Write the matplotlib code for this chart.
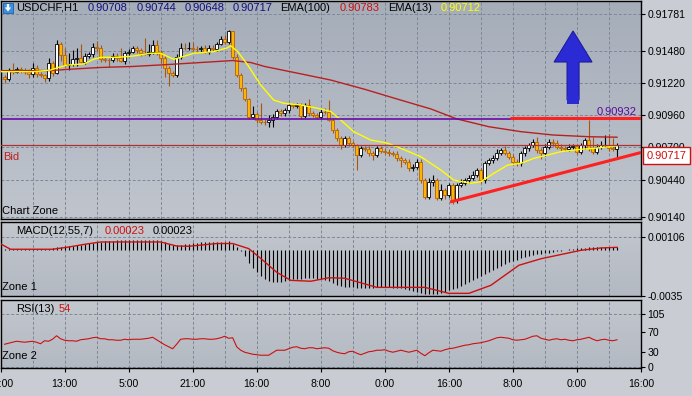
import numpy as np
import matplotlib
matplotlib.use("Agg")
import matplotlib.pyplot as plt
from matplotlib.patches import Rectangle, Polygon
from matplotlib.colors import LinearSegmentedColormap

# ---------------- data ----------------
first_open = 0.91273
close = [
    0.91255, 0.91327, 0.91314, 0.91333, 0.91327, 0.91314, 0.91293, 0.91346, 0.91293, 0.91287,
    0.91260, 0.91382, 0.91301, 0.91538, 0.91449, 0.91368, 0.91376, 0.91417, 0.91425, 0.91395,
    0.91443, 0.91455, 0.91516, 0.91508, 0.91414, 0.91412, 0.91410, 0.91443, 0.91422, 0.91400,
    0.91463, 0.91476, 0.91503, 0.91489, 0.91463, 0.91460, 0.91476, 0.91530, 0.91476, 0.91422,
    0.91341, 0.91301, 0.91287, 0.91435, 0.91508, 0.91503, 0.91508, 0.91498, 0.91495, 0.91503,
    0.91476, 0.91508, 0.91498, 0.91536, 0.91579, 0.91557, 0.91643, 0.91435, 0.91287, 0.91179,
    0.91093, 0.90949, 0.90969, 0.90922, 0.90909, 0.90904, 0.90922, 0.90949, 0.90995, 0.90977,
    0.91003, 0.91044, 0.91038, 0.91044, 0.90957, 0.91044, 0.90977, 0.90963, 0.90949, 0.90990,
    0.90987, 0.90922, 0.90841, 0.90774, 0.90720, 0.90774, 0.90734, 0.90720, 0.90639, 0.90693,
    0.90690, 0.90653, 0.90639, 0.90693, 0.90674, 0.90666, 0.90653, 0.90650, 0.90612, 0.90598,
    0.90585, 0.90531, 0.90544, 0.90585, 0.90436, 0.90301, 0.90420, 0.90436, 0.90291, 0.90355,
    0.90315, 0.90396, 0.90274, 0.90396, 0.90412, 0.90436, 0.90453, 0.90477, 0.90517, 0.90436,
    0.90574, 0.90598, 0.90615, 0.90655, 0.90679, 0.90655, 0.90625, 0.90585, 0.90572, 0.90653,
    0.90693, 0.90720, 0.90747, 0.90679, 0.90653, 0.90706, 0.90747, 0.90734, 0.90706, 0.90693,
    0.90690, 0.90706, 0.90710, 0.90666, 0.90720, 0.90760, 0.90693, 0.90666, 0.90706, 0.90720,
    0.90722, 0.90693, 0.90688, 0.90717,
]
upper_wick_pips = [
    1, 2, 6, 2, 2, 2, 2, 4, 2, 2,
    1, 4, 2, 3, 2, 6, 9, 7, 8, 11,
    2, 2, 3, 5, 2, 2, 1, 2, 2, 8,
    2, 2, 2, 2, 2, 12, 6, 4, 4, 1,
    2, 2, 2, 2, 4, 4, 5, 5, 2, 2,
    3, 2, 2, 2, 2, 3, 1, 0, 2, 2,
    1, 1, 7, 2, 14, 2, 4, 2, 2, 2,
    2, 2, 2, 2, 2, 2, 5, 2, 2, 2,
    3, 10, 2, 2, 2, 2, 2, 2, 1, 2,
    2, 2, 2, 2, 2, 2, 2, 2, 2, 2,
    2, 2, 2, 2, 2, 2, 3, 4, 2, 5,
    2, 2, 2, 2, 3, 2, 2, 3, 2, 2,
    2, 2, 2, 3, 2, 3, 2, 2, 2, 2,
    2, 2, 2, 4, 2, 2, 2, 2, 3, 2,
    2, 2, 2, 2, 2, 2, 16, 9, 2, 3,
    8, 9, 8, 2,
]
lower_wick_pips = [
    3, 2, 2, 1, 2, 2, 3, 2, 2, 2,
    3, 2, 2, 1, 5, 2, 4, 2, 6, 1,
    2, 2, 2, 3, 2, 2, 6, 2, 2, 1,
    2, 2, 1, 2, 2, 1, 2, 2, 3, 4,
    7, 10, 2, 2, 2, 1, 1, 2, 2, 2,
    1, 2, 2, 2, 1, 2, 2, 2, 2, 2,
    2, 2, 2, 2, 2, 2, 4, 6, 2, 2,
    2, 2, 2, 2, 3, 2, 2, 2, 2, 2,
    2, 1, 2, 2, 3, 2, 2, 2, 12, 2,
    2, 2, 4, 2, 2, 2, 2, 2, 2, 6,
    2, 2, 2, 2, 2, 2, 2, 3, 2, 2,
    3, 2, 3, 2, 2, 2, 2, 2, 2, 2,
    2, 2, 2, 2, 2, 2, 2, 2, 2, 2,
    2, 2, 2, 2, 5, 2, 2, 2, 2, 2,
    2, 2, 2, 2, 2, 3, 2, 2, 2, 2,
    2, 2, 2, 7,
]

ema100_bar = [-1, 11.5, 16, 24, 32, 41, 49, 57, 61.5, 65, 73, 81.5, 90, 98, 106.5, 113, 121, 129, 137, 146, 153]
ema100 = [0.91322, 0.91323, 0.91333, 0.91348, 0.91356, 0.91372, 0.91388, 0.91404, 0.91388, 0.91356,
          0.91303, 0.91246, 0.91171, 0.91093, 0.91012, 0.90931, 0.90868, 0.90828, 0.90801, 0.90787, 0.90783]

ema13_bar = [-1, 7.25, 11.5, 13.25, 15.75, 19.75, 22.25, 24, 28.25, 32.25, 36.5, 39, 42.25, 44, 47.25,
             52.25, 55.75, 56.5, 58.25, 60.75, 64, 67.25, 69.75, 74, 78.25, 81.5, 84, 87.25, 91.5,
             95.75, 99, 104, 109, 112.25, 116.5, 119, 122.25, 125.75, 129, 132.25, 135.75, 139,
             144, 147.25, 153]
ema13 = [0.91314, 0.91314, 0.91327, 0.91346, 0.91368, 0.91376, 0.91414, 0.91430, 0.91430, 0.91441,
         0.91463, 0.91463, 0.91414, 0.91430, 0.91463, 0.91476, 0.91508, 0.91524, 0.91476, 0.91368,
         0.91206, 0.91084, 0.91058, 0.91044, 0.91017, 0.90991, 0.90922, 0.90828, 0.90760, 0.90734,
         0.90693, 0.90625, 0.90517, 0.90436, 0.90410, 0.90423, 0.90491, 0.90558, 0.90572, 0.90612,
         0.90639, 0.90666, 0.90685, 0.90693, 0.90712]

# MACD main (histogram) in units of 1e-5
macd_main_e5 = [
    8, 8, 8, 8, 8, 8, 8, 8, 8, 8, 8, 8, 15,
    23, 23, 31,
    31, 31, 38, 38, 46,
    54, 54, 62, 62,
    69, 69, 69, 77, 77, 77, 77, 77, 77, 77, 77, 77, 77, 77,
    69, 62, 46, 38, 38,
    38, 46, 46, 54, 54,
    62, 62, 62, 62, 62, 62, 62, 69,
    46, 23, -8, -46, -100, -138, -169, -200, -223, -238, -246, -246, -246,
    -238, -231, -223, -223, -223, -215, -215, -215, -223, -223, -231,
    -238, -254, -269, -277, -285, -285, -285, -292, -292, -292,
    -292, -292, -285, -285, -285, -285, -292, -292, -292, -300,
    -308, -315, -323, -331, -338, -338, -338,
    -338, -331, -323, -308, -300, -292,
    -277, -261, -246, -231, -215, -200, -185,
    -169, -154, -138, -123, -108, -92, -85, -77, -62, -54,
    -46, -38, -31, -31, -23, -23, -15, -8, -8, 0,
    8, 8, 15, 15, 15, 23, 23, 23, 23, 23, 23, 23, 23,
]
signal_bar = [-1, 1.5, 12, 16, 20, 24, 39, 43, 46, 53, 57, 61, 64, 68, 71.5, 76.5, 81, 85, 93, 105,
              111, 116, 121.5, 128.5, 134, 140, 144, 149, 153]
signal_e5 = [50, 8, 8, 25, 46, 64, 64, 33, 31, 52, 52, 13, -62, -169, -231, -238, -211, -215, -285,
             -285, -331, -331, -269, -115, -65, -26, 0, 18, 23]

rsi = [
    45, 47, 49, 51, 50, 49, 50, 51, 49, 46,
    52, 51, 55, 62, 56, 53, 52, 52, 51, 54,
    55, 56, 58, 59, 56, 56, 54, 54, 53, 53,
    55, 54, 55, 55, 55, 56, 57, 59, 54, 49,
    44, 40, 36, 45, 55, 56, 56, 55, 55, 56,
    56, 55, 55, 56, 58, 61, 57, 58, 40, 33,
    29, 27, 25, 24, 23, 23, 23, 28, 33, 33,
    33, 36, 39, 40, 37, 36, 38, 38, 36, 37,
    38, 37, 32, 29, 27, 26, 30, 31, 27, 24,
    27, 30, 31, 33, 33, 34, 31, 29, 31, 33,
    31, 29, 31, 33, 27, 22, 28, 33, 32, 31,
    34, 36, 37, 39, 41, 43, 44, 46, 47, 48,
    50, 52, 55, 58, 59, 58, 57, 54, 53, 54,
    55, 58, 61, 62, 57, 55, 53, 55, 56, 54,
    55, 53, 52, 54, 55, 57, 59, 55, 52, 54,
    55, 53, 52, 54,
]

time_labels = ["21:00", "13:00", "5:00", "21:00", "16:00", "8:00", "0:00", "16:00", "8:00", "0:00", "16:00"]
price_ticks = [0.91781, 0.91480, 0.91220, 0.90960, 0.90700, 0.90440, 0.90140]
macd_ticks = [0.00106, -0.0035]
rsi_ticks = [105, 70, 30, 0]

header_ohlc = ["0.90708", "0.90744", "0.90648", "0.90717"]
ema100_last = "0.90783"
ema13_last = "0.90712"
bid_price = 0.90717
level_price = 0.90932
resist_price = 0.90942
trend_start = (112.3, 0.90258)
trend_end = (160.0, 0.90659)
resist_start_hour = 127.3

# ---------------- layout ----------------
W, H = 692, 396
fig = plt.figure(figsize=(W / 100, H / 100), dpi=100)
fig.patch.set_facecolor("#c9cdd3")

XR = 641.0
HOURS = 160.0

def fx(x):
    return x / W

def fy(y):
    return 1 - y / H

def px_hour(x):
    return x / XR * HOURS

def px_price(y):
    return 0.918944 - 0.000081 * y

def add_panel(top, bottom, c_top, c_bot):
    rect = [fx(0.5), fy(bottom), fx(XR - 0.5), (bottom - top) / H]
    bg = fig.add_axes(rect, zorder=0)
    cmap = LinearSegmentedColormap.from_list("g", [c_top, c_bot])
    bg.imshow(np.linspace(0, 1, 200).reshape(-1, 1), cmap=cmap, aspect="auto", extent=[0, 1, 0, 1])
    bg.set_axis_off()
    ax = fig.add_axes(rect, zorder=1)
    ax.set_facecolor("none")
    for s in ax.spines.values():
        s.set_color("black")
        s.set_linewidth(1.0)
    ax.set_xlim(0, HOURS)
    return ax

ax = add_panel(1, 219, "#a5adb9", "#c0c5cd")
axm = add_panel(222, 296, "#c3c7ce", "#b3b9c2")
axr = add_panel(300, 368, "#c3c7ce", "#b3b9c2")

NARROW = ["Liberation Sans Narrow", "Liberation Sans", "DejaVu Sans"]
tick_font = dict(family=NARROW, size=7.6)
grid_kw = dict(color="#7c8898", linestyle=(0, (3, 2)), linewidth=0.7, zorder=1)

for a in (ax, axm, axr):
    a.yaxis.tick_right()
    a.tick_params(axis="y", direction="out", length=3, width=0.8, pad=1.5, colors="black")
    a.tick_params(axis="x", direction="out", length=3, width=0.8)
    for h in np.arange(8, HOURS, 8):
        a.axvline(h, **grid_kw)

# ---- main panel ----
ax.set_ylim(px_price(219), px_price(1))
ax.set_yticks(price_ticks)
ax.set_yticklabels([f"{p:.5f}" for p in price_ticks], **tick_font)
for p in price_ticks:
    ax.axhline(p, **grid_kw)
ax.set_xticks([])

close_a = np.array(close)
opens = np.r_[first_open, close_a[:-1]]
highs = np.maximum(opens, close_a) + np.array(upper_wick_pips) * 1e-4
lows = np.minimum(opens, close_a) - np.array(lower_wick_pips) * 1e-4
hours = np.arange(len(close_a)) + 1.0
bw = 0.75
for h, o, c, hi, lo in zip(hours, opens, close_a, highs, lows):
    bull = c >= o
    wick_c = "black" if bull else "#a8550f"
    ax.plot([h, h], [lo, hi], color=wick_c, lw=0.8, zorder=3, solid_capstyle="butt")
    bot, top = min(o, c), max(o, c)
    hgt = max(top - bot, 0.00002)
    if bull:
        ax.add_patch(Rectangle((h - bw / 2, bot), bw, hgt, facecolor="white", edgecolor="black", lw=0.6, zorder=4))
    else:
        ax.add_patch(Rectangle((h - bw / 2, bot), bw, hgt, facecolor="#ffb400", edgecolor="#b86200", lw=0.6, zorder=4))

ax.plot(np.array(ema100_bar) + 1, ema100, color="#b82020", lw=1.0, zorder=5)
ax.plot(np.array(ema13_bar) + 1, ema13, color="#ffff00", lw=1.0, zorder=5)

ax.axhline(level_price, color="#6a0aa8", lw=1.2, zorder=5)
ax.axhline(bid_price, color="#b03030", lw=0.9, zorder=5)
ax.plot([resist_start_hour, HOURS], [resist_price, resist_price], color="#ff2020", lw=2.2, zorder=6,
        solid_capstyle="butt")
ax.plot([trend_start[0], trend_end[0]], [trend_start[1], trend_end[1]], color="#ff2020", lw=2.2, zorder=6,
        solid_capstyle="butt")

# big blue arrow (pixel outline -> data)
arrow_px = [(573, 31), (592, 62), (579, 62), (579, 100), (567, 100), (567, 62), (554, 62)]
ax.add_patch(Polygon([(px_hour(x), px_price(y)) for x, y in arrow_px], closed=True,
                     facecolor="#2b2bd6", edgecolor="#1c1c9c", lw=0.8, zorder=7))
ax.add_patch(Rectangle((px_hour(567), px_price(104)), px_hour(12), px_price(96) - px_price(104),
                       facecolor="#2b2bd6", edgecolor="none", zorder=7))

ax.text(px_hour(637), level_price + 0.00012, "0.90932", color="#5a0aa0", ha="right", va="bottom",
        fontsize=8, family=NARROW, zorder=8)

# price box for bid
fig.text(fx(666.5), fy(155.5), f"{bid_price:.5f}", color="#d01010", ha="center", va="center",
         fontsize=8, family=NARROW, zorder=10,
         bbox=dict(boxstyle="square,pad=0.3", facecolor="white", edgecolor="#d01010", lw=1.0))

# ---- MACD panel ----
def m_val(y):
    return (250.3 - y) * 7.69e-5

axm.set_ylim(m_val(296), m_val(222))
axm.set_yticks(macd_ticks)
axm.set_yticklabels(["0.00106", "-0.0035"], **tick_font)
axm.axhline(macd_ticks[0], **grid_kw)
axm.set_xticks([])
mm = np.array(macd_main_e5) * 1e-5
axm.vlines(hours, 0, mm, color="black", lw=0.8, zorder=3)
axm.plot(np.array(signal_bar) + 1, np.array(signal_e5) * 1e-5, color="#cc1010", lw=1.0, zorder=4)

# ---- RSI panel ----
def r_val(y):
    return (366.7 - y) / 0.499

axr.set_ylim(r_val(368), r_val(300))
axr.set_yticks(rsi_ticks)
axr.set_yticklabels([str(v) for v in rsi_ticks], **tick_font)
axr.axhline(105, **grid_kw)
axr.axhline(0, **grid_kw)
axr.plot(hours, rsi, color="#cc1010", lw=0.8, zorder=4)
axr.set_xticks(np.arange(0, HOURS + 1, 16))
axr.set_xticklabels(time_labels, **tick_font)
axr.tick_params(axis="x", pad=5)

# ---- header texts ----
hfont = dict(family=["Liberation Sans", "DejaVu Sans"], size=8)
ty = fy(8)
fig.add_artist(Rectangle((fx(3), fy(13)), 10 / W, 10 / H, transform=fig.transFigure,
                         facecolor="#3a8ee0", edgecolor="#1a5fb0", lw=0.6, zorder=10))
fig.add_artist(Polygon([(fx(8), fy(11.5)), (fx(4.8), fy(7.5)), (fx(6.8), fy(7.5)), (fx(6.8), fy(4)),
                        (fx(9.2), fy(4)), (fx(9.2), fy(7.5)), (fx(11.2), fy(7.5))],
                       closed=True, transform=fig.transFigure, facecolor="white", edgecolor="none", zorder=11))
fig.text(fx(16), ty, "USDCHF,H1", color="black", ha="left", va="center", zorder=10, **hfont)
for xpos, txt in zip([88, 137, 185, 233], header_ohlc):
    fig.text(fx(xpos), ty, txt, color="#101080", ha="left", va="center", zorder=10, **hfont)
fig.text(fx(280), ty, "EMA(100)", color="black", ha="left", va="center", zorder=10, **hfont)
fig.text(fx(340), ty, ema100_last, color="#cc1010", ha="left", va="center", zorder=10, **hfont)
fig.text(fx(388), ty, "EMA(13)", color="black", ha="left", va="center", zorder=10, **hfont)
fig.text(fx(441), ty, ema13_last, color="#ffff00", ha="left", va="center", zorder=10, **hfont)

fig.text(fx(3), fy(157), "Bid", color="#c02020", ha="left", va="center", zorder=10, **hfont)
fig.text(fx(2), fy(211), "Chart Zone", color="black", ha="left", va="center", zorder=10, **hfont)

fig.text(fx(16), fy(231), "MACD(12,55,7)", color="black", ha="left", va="center", zorder=10, **hfont)
fig.text(fx(105), fy(231), "0.00023", color="#cc1010", ha="left", va="center", zorder=10, **hfont)
fig.text(fx(153), fy(231), "0.00023", color="black", ha="left", va="center", zorder=10, **hfont)
fig.text(fx(2), fy(287), "Zone 1", color="black", ha="left", va="center", zorder=10, **hfont)

fig.text(fx(16), fy(309), "RSI(13)", color="black", ha="left", va="center", zorder=10, **hfont)
fig.text(fx(59), fy(309), "54", color="#cc1010", ha="left", va="center", zorder=10, **hfont)
fig.text(fx(2), fy(356), "Zone 2", color="black", ha="left", va="center", zorder=10, **hfont)

fig.savefig("out.png", dpi=100, facecolor=fig.get_facecolor())
